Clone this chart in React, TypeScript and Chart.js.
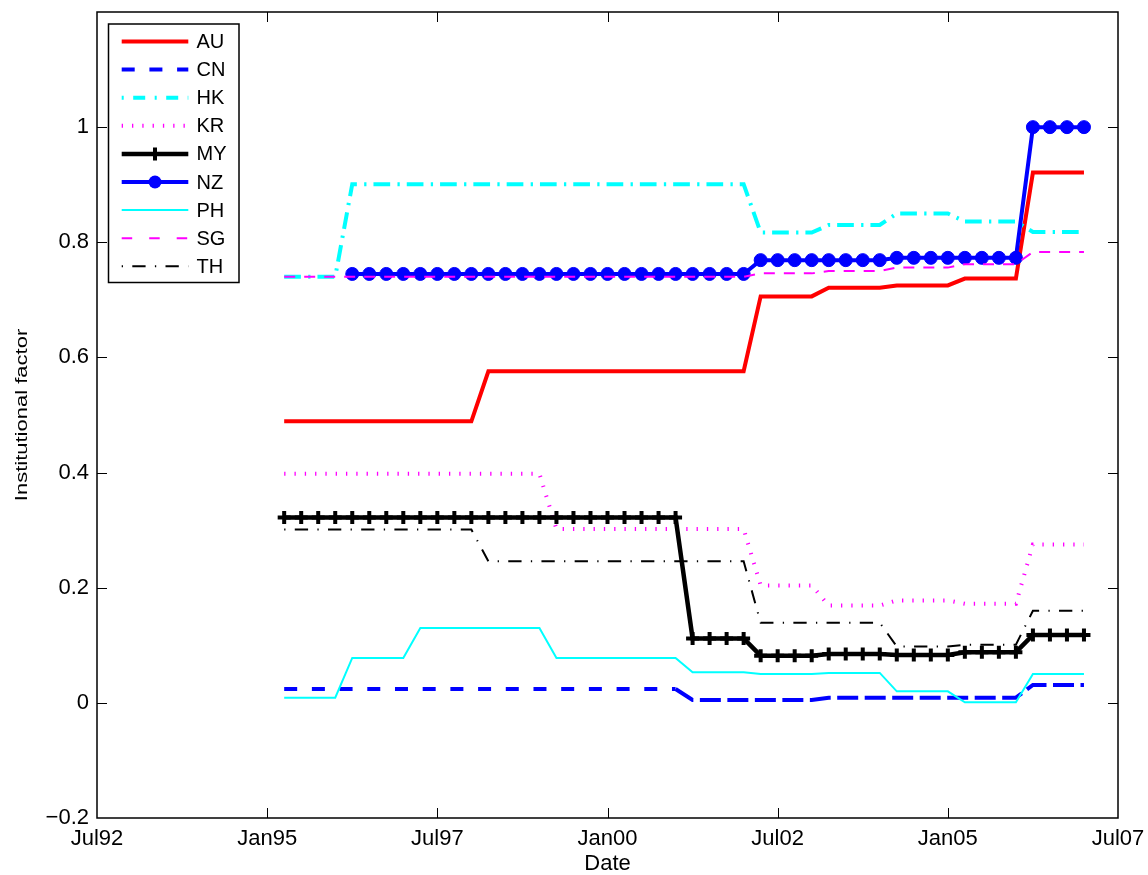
import React, { useEffect, useRef } from 'react';
import { Chart, registerables } from 'chart.js';

Chart.register(...registerables);

// Quarterly observation dates (decimal years)
const dates = [
  1995.25, 1995.5, 1995.75,
  1996, 1996.25, 1996.5, 1996.75,
  1997, 1997.25, 1997.5, 1997.75,
  1998, 1998.25, 1998.5, 1998.75,
  1999, 1999.25, 1999.5, 1999.75,
  2000, 2000.25, 2000.5, 2000.75,
  2001, 2001.25, 2001.5, 2001.75,
  2002, 2002.25, 2002.5, 2002.75,
  2003, 2003.25, 2003.5, 2003.75,
  2004, 2004.25, 2004.5, 2004.75,
  2005, 2005.25, 2005.5, 2005.75,
  2006, 2006.25, 2006.5, 2006.75,
  2007,
];

const AU = [
  0.489, 0.489, 0.489, 0.489, 0.489, 0.489, 0.489, 0.489, 0.489, 0.489, 0.489, 0.489,
  0.576, 0.576, 0.576, 0.576, 0.576, 0.576, 0.576, 0.576, 0.576, 0.576, 0.576, 0.576, 0.576, 0.576, 0.576, 0.576,
  0.706, 0.706, 0.706, 0.706,
  0.721, 0.721, 0.721, 0.721,
  0.725, 0.725, 0.725, 0.725,
  0.737, 0.737, 0.737, 0.737,
  0.921, 0.921, 0.921, 0.921,
];
const CN = [
  0.024, 0.024, 0.024, 0.024, 0.024, 0.024, 0.024, 0.024, 0.024, 0.024, 0.024, 0.024,
  0.024, 0.024, 0.024, 0.024, 0.024, 0.024, 0.024, 0.024, 0.024, 0.024, 0.024, 0.024,
  0.005, 0.005, 0.005, 0.005, 0.005, 0.005, 0.005, 0.005,
  0.009, 0.009, 0.009, 0.009, 0.009, 0.009, 0.009, 0.009, 0.009, 0.009, 0.009, 0.009,
  0.031, 0.031, 0.031, 0.031,
];
const HK = [
  0.74, 0.74, 0.74, 0.74,
  0.901, 0.901, 0.901, 0.901, 0.901, 0.901, 0.901, 0.901, 0.901, 0.901, 0.901, 0.901,
  0.901, 0.901, 0.901, 0.901, 0.901, 0.901, 0.901, 0.901, 0.901, 0.901, 0.901, 0.901,
  0.817, 0.817, 0.817, 0.817,
  0.83, 0.83, 0.83, 0.83,
  0.85, 0.85, 0.85, 0.85,
  0.836, 0.836, 0.836, 0.836,
  0.818, 0.818, 0.818, 0.818,
];
const KR = [
  0.398, 0.398, 0.398, 0.398, 0.398, 0.398, 0.398, 0.398, 0.398, 0.398, 0.398, 0.398, 0.398, 0.398, 0.398, 0.398,
  0.302, 0.302, 0.302, 0.302, 0.302, 0.302, 0.302, 0.302, 0.302, 0.302, 0.302, 0.302,
  0.204, 0.204, 0.204, 0.204,
  0.169, 0.169, 0.169, 0.169,
  0.178, 0.178, 0.178, 0.178,
  0.172, 0.172, 0.172, 0.172,
  0.275, 0.275, 0.275, 0.275,
];
const MY = [
  0.322, 0.322, 0.322, 0.322, 0.322, 0.322, 0.322, 0.322, 0.322, 0.322, 0.322, 0.322,
  0.322, 0.322, 0.322, 0.322, 0.322, 0.322, 0.322, 0.322, 0.322, 0.322, 0.322, 0.322,
  0.112, 0.112, 0.112, 0.112,
  0.082, 0.082, 0.082, 0.082,
  0.085, 0.085, 0.085, 0.085,
  0.083, 0.083, 0.083, 0.083,
  0.088, 0.088, 0.088, 0.088,
  0.118, 0.118, 0.118, 0.118,
];
const NZ = [
  null, null, null, null,
  0.745, 0.745, 0.745, 0.745, 0.745, 0.745, 0.745, 0.745, 0.745, 0.745, 0.745, 0.745,
  0.745, 0.745, 0.745, 0.745, 0.745, 0.745, 0.745, 0.745, 0.745, 0.745, 0.745, 0.745,
  0.769, 0.769, 0.769, 0.769, 0.769, 0.769, 0.769, 0.769,
  0.773, 0.773, 0.773, 0.773, 0.773, 0.773, 0.773, 0.773,
  1.0, 1.0, 1.0, 1.0,
];
const PH = [
  0.009, 0.009, 0.009, 0.009,
  0.078, 0.078, 0.078, 0.078,
  0.13, 0.13, 0.13, 0.13, 0.13, 0.13, 0.13, 0.13,
  0.078, 0.078, 0.078, 0.078, 0.078, 0.078, 0.078, 0.078,
  0.053, 0.053, 0.053, 0.053,
  0.05, 0.05, 0.05, 0.05,
  0.052, 0.052, 0.052, 0.052,
  0.02, 0.02, 0.02, 0.02,
  0.001, 0.001, 0.001, 0.001,
  0.05, 0.05, 0.05, 0.05,
];
const SG = [
  0.74, 0.74, 0.74, 0.74, 0.74, 0.74, 0.74, 0.74, 0.74, 0.74, 0.74, 0.74, 0.74, 0.74,
  0.74, 0.74, 0.74, 0.74, 0.74, 0.74, 0.74, 0.74, 0.74, 0.74, 0.74, 0.74, 0.74, 0.74,
  0.746, 0.746, 0.746, 0.746,
  0.75, 0.75, 0.75, 0.75,
  0.756, 0.756, 0.756, 0.756,
  0.762, 0.762, 0.762, 0.762,
  0.783, 0.783, 0.783, 0.783,
];
const TH = [
  0.301, 0.301, 0.301, 0.301, 0.301, 0.301, 0.301, 0.301, 0.301, 0.301, 0.301, 0.301,
  0.246, 0.246, 0.246, 0.246, 0.246, 0.246, 0.246, 0.246, 0.246, 0.246, 0.246, 0.246, 0.246, 0.246, 0.246, 0.246,
  0.139, 0.139, 0.139, 0.139, 0.139, 0.139, 0.139, 0.139,
  0.098, 0.098, 0.098, 0.098,
  0.101, 0.101, 0.101, 0.101,
  0.16, 0.16, 0.16, 0.16,
];

const seriesNames = ['AU', 'CN', 'HK', 'KR', 'MY', 'NZ', 'PH', 'SG', 'TH'];
const seriesValues = [AU, CN, HK, KR, MY, NZ, PH, SG, TH];

const xMin = 1992.5;
const xMax = 2007.5;
const xStep = 2.5;
const yMin = -0.2;
const yMax = 1.2;
const yStep = 0.2;
const xTitle = 'Date';
const yTitle = 'Institutional factor';

const FONT = "'Liberation Sans', Arial, Helvetica, sans-serif";

type Style = {
  color: string;
  width: number;
  dash: number[];
  legendDash?: number[];
  point?: 'cross' | 'circle';
};

const styles: Style[] = [
  { color: '#ff0000', width: 4, dash: [] },
  { color: '#0000ff', width: 4, dash: [13, 14.7] },
  { color: '#00ffff', width: 4, dash: [16.7, 7.3, 2.3, 7], legendDash: [2, 9.5, 12, 9.5] },
  { color: '#ff00ff', width: 4, dash: [1.3, 9] },
  { color: '#000000', width: 4.5, dash: [], point: 'cross' },
  { color: '#0000ff', width: 4, dash: [], point: 'circle' },
  { color: '#00ffff', width: 2, dash: [] },
  { color: '#ff00ff', width: 2, dash: [11, 9], legendDash: [10.5, 17] },
  { color: '#000000', width: 2, dash: [1.3, 9.3, 13.3, 9.3] },
];

const zeroPadding = (s: any) => {
  s.paddingLeft = 0;
  s.paddingRight = 0;
  s.paddingTop = 0;
  s.paddingBottom = 0;
};

const matlabPlugin = {
  id: 'matlabDecor',
  afterDraw(chart: any) {
    const ctx = chart.ctx as CanvasRenderingContext2D;
    const a = chart.chartArea;
    const xs = chart.scales.x;
    const ys = chart.scales.y;
    ctx.save();
    // axes box
    ctx.strokeStyle = '#000';
    ctx.lineWidth = 1.5;
    ctx.setLineDash([]);
    ctx.strokeRect(a.left, a.top, a.right - a.left, a.bottom - a.top);
    // inward ticks
    ctx.lineWidth = 1;
    const tl = 10;
    ctx.beginPath();
    xs.ticks.forEach((t: any) => {
      if (t.value <= xs.min + 1e-9 || t.value >= xs.max - 1e-9) return;
      const px = Math.round(xs.getPixelForValue(t.value)) + 0.5;
      ctx.moveTo(px, a.bottom);
      ctx.lineTo(px, a.bottom - tl);
      ctx.moveTo(px, a.top);
      ctx.lineTo(px, a.top + tl);
    });
    ys.ticks.forEach((t: any) => {
      if (t.value <= ys.min + 1e-9 || t.value >= ys.max - 1e-9) return;
      const py = Math.round(ys.getPixelForValue(t.value)) + 0.5;
      ctx.moveTo(a.left, py);
      ctx.lineTo(a.left + tl, py);
      ctx.moveTo(a.right, py);
      ctx.lineTo(a.right - tl, py);
    });
    ctx.stroke();

    // axis titles
    ctx.fillStyle = '#000';
    ctx.font = `22px ${FONT}`;
    ctx.textAlign = 'center';
    ctx.textBaseline = 'alphabetic';
    ctx.fillText(xTitle, (a.left + a.right) / 2, 870);
    ctx.save();
    ctx.translate(27, (a.top + a.bottom) / 2);
    ctx.rotate(-Math.PI / 2);
    ctx.scale(1, 0.75);
    ctx.fillText(yTitle, 0, 0);
    ctx.restore();

    // legend
    const lx = 108.5, ly = 24, lw = 130.5, lh = 258.5;
    ctx.fillStyle = '#fff';
    ctx.fillRect(lx, ly, lw, lh);
    ctx.strokeStyle = '#000';
    ctx.lineWidth = 1.5;
    ctx.strokeRect(lx, ly, lw, lh);
    const x0 = 121.7, x1 = 188.3;
    chart.data.datasets.forEach((ds: any, i: number) => {
      const y = 41.5 + i * 28.1;
      const st: Style = ds.matlabStyle;
      ctx.save();
      ctx.strokeStyle = st.color;
      ctx.lineWidth = st.width;
      ctx.lineCap = 'butt';
      ctx.setLineDash(st.legendDash || st.dash);
      ctx.beginPath();
      ctx.moveTo(x0, y);
      ctx.lineTo(x1, y);
      ctx.stroke();
      ctx.setLineDash([]);
      const cx = (x0 + x1) / 2;
      if (st.point === 'cross') {
        ctx.lineWidth = 4;
        ctx.beginPath();
        ctx.moveTo(cx, y - 6.5);
        ctx.lineTo(cx, y + 6.5);
        ctx.moveTo(cx - 6.5, y);
        ctx.lineTo(cx + 6.5, y);
        ctx.stroke();
      } else if (st.point === 'circle') {
        ctx.fillStyle = st.color;
        ctx.beginPath();
        ctx.arc(cx, y, 6.5, 0, Math.PI * 2);
        ctx.fill();
      }
      ctx.restore();
      ctx.fillStyle = '#000';
      ctx.font = `20px ${FONT}`;
      ctx.textAlign = 'left';
      ctx.textBaseline = 'middle';
      ctx.fillText(ds.label, 196.5, y + 1);
    });
    ctx.restore();
  },
};

const App = () => {
  const ref = useRef<HTMLCanvasElement>(null);
  useEffect(() => {
    document.body.style.margin = '0';
    const canvas = ref.current;
    if (!canvas) return;
    const datasets = seriesNames.map((name, i) => {
      const st = styles[i];
      const vals = seriesValues[i];
      const data = dates
        .map((d, j) => ({ x: d, y: vals[j] }))
        .filter((p) => p.y !== null && p.y !== undefined);
      const ds: any = {
        label: name,
        data,
        matlabStyle: st,
        borderColor: st.color,
        backgroundColor: st.color,
        borderWidth: st.width,
        borderDash: st.dash,
        borderCapStyle: 'butt',
        borderJoinStyle: 'miter',
        fill: false,
        tension: 0,
        order: seriesNames.length - i,
        pointRadius: 0,
        pointHoverRadius: 0,
      };
      if (st.point === 'cross') {
        ds.pointStyle = 'cross';
        ds.pointRadius = 6.5;
        ds.pointBorderWidth = 4;
        ds.pointBorderColor = st.color;
      } else if (st.point === 'circle') {
        ds.pointStyle = 'circle';
        ds.pointRadius = 6.5;
        ds.pointBorderWidth = 1;
        ds.pointBorderColor = st.color;
        ds.pointBackgroundColor = st.color;
      }
      if (name === 'CN') {
        ds.segment = {
          borderDash: (c: any) => (c.p0DataIndex >= 23 ? [21, 6.5] : undefined),
        };
      }
      return ds;
    });

    const chart = new Chart(canvas, {
      type: 'line',
      data: { datasets },
      options: {
        animation: false,
        responsive: false,
        devicePixelRatio: 1,
        layout: { padding: { top: 12, right: 30, left: 0, bottom: 0 } },
        plugins: { legend: { display: false }, tooltip: { enabled: false } },
        events: [],
        scales: {
          x: {
            type: 'linear',
            min: xMin,
            max: xMax,
            afterFit: (s: any) => { s.height = 57; zeroPadding(s); },
            grid: { display: false, drawTicks: false },
            border: { display: false },
            ticks: {
              stepSize: xStep,
              autoSkip: false,
              maxRotation: 0,
              minRotation: 0,
              padding: 10,
              color: '#000',
              font: { family: FONT, size: 22, lineHeight: 1 },
              callback: (v: any) => {
                const half = Math.round(Number(v) * 2) / 2;
                const yr = Math.floor(half);
                const mon = half - yr > 0.25 ? 'Jul' : 'Jan';
                return mon + String(yr % 100).padStart(2, '0');
              },
            },
          },
          y: {
            type: 'linear',
            min: yMin,
            max: yMax,
            afterFit: (s: any) => { s.width = 97; zeroPadding(s); },
            grid: { display: false, drawTicks: false },
            border: { display: false },
            ticks: {
              stepSize: yStep,
              padding: 8,
              color: '#000',
              font: { family: FONT, size: 22, lineHeight: 1 },
              callback: (v: any) => {
                const r = Math.round(Number(v) * 10) / 10;
                if (r > 1.05) return null;
                if (r < 0) return '\u2212' + String(Math.abs(r));
                return String(r === 0 ? 0 : r);
              },
            },
          },
        },
      } as any,
      plugins: [matlabPlugin],
    });
    return () => chart.destroy();
  }, []);
  return <canvas ref={ref} width={1148} height={875} style={{ display: 'block' }} />;
};

export default App;
